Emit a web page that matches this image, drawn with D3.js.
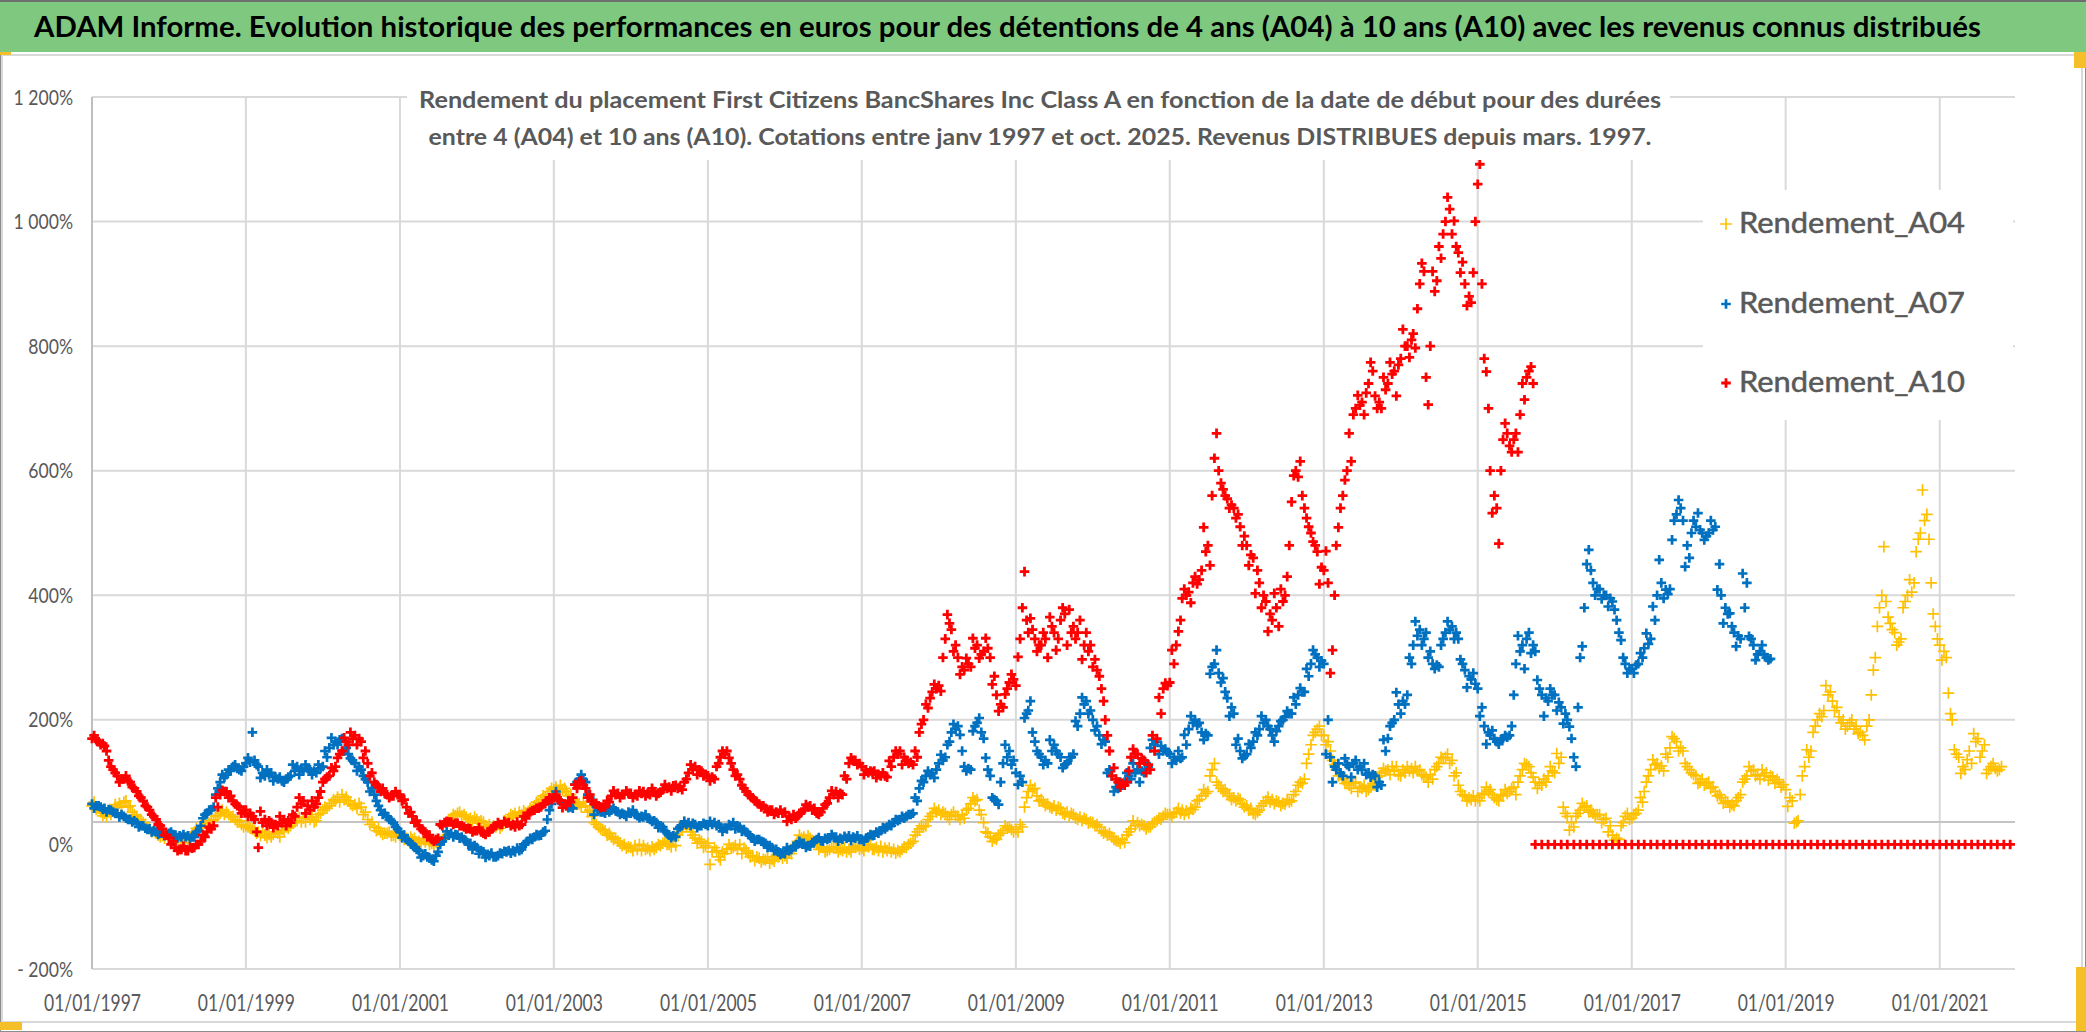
<!DOCTYPE html>
<html>
<head>
<meta charset="utf-8">
<script src="https://cdnjs.cloudflare.com/ajax/libs/d3/7.8.5/d3.min.js"></script>
<style>
    body { margin: 0; background: #ffffff; }
    text { font-family: Lato, "Open Sans", sans-serif; }
</style>
</head>
<body>
<div id="chart"></div>
<script>
// Readings (in %) on the 1st of each month, first point = January 1997
var rendementA04 = [
    62, 58, 50, 48, 60, 68, 62, 45, 35, 25, 18, 14,
    14, 10, 6, 8, 20, 30, 30, 40, 50, 52, 45, 38,
    30, 25, 20, 15, 12, 18, 22, 30, 38, 42, 40, 38,
    55, 62, 70, 80, 70, 64, 60, 40, 28, 20, 18, 15,
    15, 10, 8, 5, 4, 2, 1, 12, 42, 50, 48, 42,
    40, 36, 32, 28, 30, 42, 50, 48, 52, 62, 72, 80,
    88, 95, 85, 72, 65, 62, 45, 28, 22, 12, 5, 0,
    -5, -8, -2, -10, -5, 2, 0, -2, 25, 32, 10, 5,
    2, -5, -25, -8, -5, 0, -10, -18, -22, -25, -24, -20,
    -18, -15, 5, 12, 10, 0, -5, -8, -6, -10, -8, -5,
    -6, -4, -8, -3, -10, -8, -12, -5, 5, 25, 30, 50,
    55, 50, 48, 45, 42, 65, 72, 35, 12, 8, 22, 28,
    24, 28, 85, 90, 72, 65, 62, 58, 52, 48, 44, 40,
    35, 28, 20, 12, 5, 3, 25, 35, 30, 28, 38, 45,
    48, 52, 55, 50, 60, 78, 85, 130, 90, 82, 75, 72,
    62, 50, 55, 70, 72, 68, 65, 70, 95, 105, 160, 185,
    175, 150, 120, 105, 95, 100, 90, 88, 95, 115, 120, 118,
    110, 125, 115, 120, 108, 105, 130, 140, 135, 95, 78, 72,
    75, 82, 88, 72, 78, 85, 80, 120, 125, 100, 95, 110,
    115, 140, 45, 28, 55, 62, 50, 48, 42, 15, 8, 45,
    42, 55, 85, 120, 130, 118, 155, 165, 150, 120, 110, 105,
    100, 85, 75, 68, 62, 80, 110, 120, 105, 115, 108, 100,
    88, 70, 38, 125, 150, 200, 215, 245, 220, 200, 195, 190,
    175, 200, 300, 400, 365, 340, 330, 400, 420, 500, 530, 370,
    320, 300, 200, 140, 120, 130, 170, 160, 125, 118
];
// Readings on the 11th of each month
var rendementA04Mid = [
    68, 52, 45, 55, 66, 70, 52, 38, 30, 20, 15, 10,
    8, 5, 3, 12, 26, 28, 34, 45, 55, 48, 40, 32,
    28, 22, 14, 11, 16, 12, 28, 34, 43, 36, 44, 48,
    60, 66, 76, 72, 65, 58, 48, 32, 22, 16, 20, 12,
    12, 6, 10, 2, 8, -2, 5, 30, 48, 52, 44, 38,
    34, 30, 26, 32, 38, 48, 44, 54, 58, 68, 78, 85,
    92, 88, 78, 68, 60, 52, 35, 25, 15, 8, 2, -6,
    -10, 0, -8, -4, 0, 5, -4, 15, 36, 20, 2, -5,
    -32, -10, -12, 0, -2, -15, -14, -26, -28, -20, -27, -16,
    -22, -5, 15, 8, 5, -8, -12, -4, -12, -6, -12, -2,
    -10, 0, -5, -12, -6, -14, -8, 0, 15, 30, 40, 58,
    48, 45, 52, 40, 55, 75, 55, 20, 5, 15, 30, 24,
    20, 60, 95, 78, 68, 60, 55, 50, 45, 42, 38, 34,
    30, 22, 15, 8, 2, 15, 38, 30, 25, 33, 42, 50,
    44, 58, 48, 58, 70, 88, 110, 100, 85, 78, 70, 65,
    55, 48, 62, 76, 65, 62, 72, 80, 100, 130, 175, 190,
    160, 135, 110, 98, 90, 85, 95, 92, 108, 122, 112, 125,
    120, 118, 125, 112, 100, 120, 140, 145, 110, 85, 70, 78,
    70, 92, 80, 70, 88, 90, 100, 130, 115, 90, 105, 125,
    146, 60, 23, 45, 66, 52, 45, 35, 20, 7, 30, 50,
    48, 75, 100, 136, 122, 145, 173, 150, 130, 115, 98, 95,
    90, 78, 66, 60, 70, 100, 125, 110, 120, 103, 98, 92,
    61, 34, 80, 152, 180, 210, 255, 230, 205, 185, 200, 178,
    168, 240, 350, 478, 355, 320, 380, 425, 470, 569, 490, 350,
    296, 243, 152, 114, 136, 178, 140, 114, 130, 120
];
// Readings on the 21st of each month
var rendementA04Late = [
    56, 46, 52, 64, 62, 60, 48, 40, 26, 22, 12, 16,
    10, 12, 8, 16, 22, 34, 38, 46, 48, 44, 36, 28,
    26, 18, 20, 16, 20, 24, 26, 36, 36, 45, 36, 50,
    58, 72, 68, 76, 62, 66, 52, 36, 26, 18, 14, 18,
    8, 12, 4, 8, 0, 4, 8, 38, 46, 46, 40, 44,
    38, 28, 30, 26, 36, 46, 52, 50, 56, 66, 76, 90,
    84, 90, 80, 64, 68, 55, 32, 24, 18, 10, -2, -4,
    -2, -10, -6, -8, -2, 0, 6, 20, 30, 15, 8, -2,
    -12, -20, -15, -6, -8, -6, -20, -20, -24, -30, -18, -22,
    -14, 0, 10, 14, 4, -4, -10, -6, -8, -12, -4, -8,
    -2, -8, -10, -6, -12, -10, -4, 2, 20, 28, 45, 52,
    52, 40, 46, 48, 58, 70, 48, 18, 10, 18, 26, 20,
    32, 75, 88, 70, 62, 58, 60, 48, 50, 40, 42, 36,
    32, 18, 18, 6, 8, 20, 30, 32, 28, 36, 40, 48,
    50, 50, 54, 56, 72, 82, 120, 95, 88, 72, 74, 60,
    58, 52, 66, 68, 70, 66, 68, 85, 98, 145, 180, 175,
    165, 128, 112, 100, 98, 92, 85, 98, 110, 118, 125, 112,
    115, 122, 118, 110, 112, 125, 138, 130, 115, 80, 75, 70,
    80, 85, 75, 80, 82, 92, 110, 128, 108, 98, 100, 118,
    130, 50, 35, 50, 60, 55, 48, 40, 30, 10, 35, 40,
    50, 68, 110, 128, 126, 140, 170, 155, 125, 112, 100, 98,
    92, 80, 70, 64, 75, 105, 118, 112, 110, 110, 104, 96,
    75, 36, 110, 140, 190, 205, 240, 215, 195, 190, 185, 180,
    190, 280, 380, 390, 345, 325, 390, 405, 490, 520, 420, 330,
    310, 210, 145, 125, 150, 165, 150, 120, 122, 125
];

var rendementA07 = [
    65, 62, 58, 55, 50, 45, 40, 35, 30, 25, 20, 18,
    18, 15, 12, 14, 12, 30, 50, 60, 100, 112, 125, 120,
    130, 180, 125, 110, 115, 105, 100, 110, 125, 118, 120, 115,
    125, 155, 165, 170, 145, 130, 120, 100, 80, 55, 45, 35,
    20, 8, 0, -10, -15, -25, -12, 10, 18, 15, 8, 2,
    -5, -12, -18, -20, -15, -10, -12, -8, 5, 12, 15, 40,
    78, 70, 62, 58, 105, 100, 70, 55, 50, 55, 52, 48,
    50, 46, 44, 40, 35, 28, 15, 12, 30, 35, 32, 30,
    30, 35, 28, 25, 35, 28, 20, 10, 8, 2, -5, -12,
    -15, -8, 0, 2, -3, 8, 5, 10, 12, 8, 14, 10,
    8, 12, 15, 22, 28, 35, 40, 45, 50, 90, 110, 115,
    130, 140, 180, 190, 125, 120, 195, 170, 110, 70, 130, 150,
    115, 100, 215, 165, 140, 130, 160, 140, 130, 145, 210, 230,
    200, 175, 165, 110, 90, 100, 105, 120, 115, 155, 165, 150,
    145, 135, 140, 185, 200, 180, 175, 290, 260, 235, 210, 150,
    145, 165, 185, 200, 175, 190, 205, 210, 240, 245, 290, 300,
    290, 140, 120, 110, 125, 135, 120, 115, 110, 95, 170, 200,
    210, 240, 320, 345, 340, 290, 285, 340, 350, 330, 280, 265,
    250, 190, 175, 165, 170, 175, 290, 320, 340, 310, 240, 230,
    240, 220, 200, 140, 300, 450, 420, 410, 400, 390, 340, 290,
    282, 290, 315, 330, 400, 395, 410, 530, 520, 460, 510, 500,
    500, 510, 400, 370, 340, 330, 420, 320, 310, 300
];
var rendementA07Mid = [
    58, 60, 52, 52, 44, 42, 36, 28, 26, 20, 16, 14,
    20, 11, 16, 10, 20, 42, 55, 80, 112, 120, 128, 118,
    139, 135, 107, 120, 102, 108, 105, 128, 112, 128, 112, 128,
    150, 171, 160, 150, 138, 118, 110, 85, 70, 48, 40, 28,
    11, 5, -5, -21, -20, -27, 0, 21, 12, 10, 5, -8,
    -15, -21, -14, -18, -11, -14, -6, 0, 10, 16, 20, 55,
    85, 65, 59, 96, 112, 80, 48, 52, 55, 58, 48, 45,
    55, 43, 48, 37, 27, 21, 11, 25, 37, 30, 27, 34,
    37, 30, 21, 32, 25, 21, 16, 5, 5, -5, -10, -16,
    -5, -3, 5, -5, 3, 11, 10, 16, 5, 13, 6, 14,
    5, 16, 20, 27, 32, 40, 45, 48, 75, 102, 118, 107,
    144, 160, 193, 176, 118, 182, 203, 139, 75, 64, 160, 128,
    96, 203, 230, 150, 128, 168, 150, 123, 140, 198, 236, 210,
    183, 161, 115, 85, 100, 115, 130, 100, 130, 168, 145, 153,
    130, 150, 176, 206, 191, 168, 274, 312, 267, 206, 160, 138,
    161, 180, 206, 190, 165, 198, 214, 236, 251, 282, 312, 285,
    145, 100, 130, 138, 108, 120, 130, 108, 92, 168, 190, 244,
    230, 300, 358, 320, 300, 282, 320, 358, 330, 297, 252, 275,
    206, 161, 183, 161, 175, 190, 335, 282, 307, 264, 206, 250,
    215, 194, 189, 125, 318, 473, 400, 394, 382, 377, 328, 275,
    275, 307, 339, 382, 457, 409, 489, 553, 446, 500, 532, 489,
    520, 409, 355, 371, 318, 435, 334, 296, 320, 296
];
var rendementA07Late = [
    62, 56, 56, 50, 48, 40, 38, 30, 24, 22, 18, 16,
    16, 14, 12, 12, 22, 48, 56, 90, 108, 118, 122, 125,
    132, 128, 115, 112, 108, 102, 108, 118, 122, 122, 118, 122,
    140, 160, 168, 155, 135, 125, 105, 90, 62, 50, 38, 25,
    15, 2, -8, -18, -22, -18, 5, 15, 16, 12, 0, -2,
    -10, -16, -20, -14, -12, -10, -10, 2, 8, 14, 22, 65,
    72, 65, 60, 100, 104, 75, 60, 52, 52, 54, 50, 52,
    48, 45, 42, 38, 30, 18, 14, 28, 32, 34, 30, 32,
    32, 32, 26, 30, 30, 24, 14, 8, 4, -2, -8, -14,
    -10, -4, 2, -2, 5, 6, 8, 12, 10, 10, 12, 8,
    10, 14, 18, 25, 30, 38, 42, 48, 70, 100, 112, 120,
    135, 165, 185, 150, 122, 190, 180, 120, 72, 100, 140, 135,
    110, 210, 180, 145, 135, 150, 145, 128, 140, 190, 225, 215,
    190, 168, 120, 92, 95, 110, 115, 118, 125, 160, 158, 148,
    140, 138, 160, 195, 195, 178, 285, 275, 245, 220, 170, 142,
    155, 175, 195, 185, 182, 200, 210, 225, 245, 270, 305, 295,
    200, 125, 115, 128, 130, 125, 112, 112, 100, 150, 195, 225,
    225, 290, 335, 330, 310, 288, 330, 345, 340, 290, 270, 258,
    220, 180, 170, 168, 172, 240, 310, 330, 320, 250, 235, 240,
    228, 210, 170, 220, 380, 440, 410, 400, 395, 360, 300, 282,
    288, 300, 322, 360, 420, 402, 520, 540, 480, 520, 505, 495,
    505, 450, 380, 350, 335, 380, 330, 305, 305, 298
];

var rendementA10 = [
    170, 165, 158, 125, 110, 105, 100, 85, 70, 55, 40, 25,
    10, -5, -8, -10, -5, 5, 20, 30, 80, 85, 70, 60,
    55, 45, -5, 40, 35, 30, 40, 35, 60, 70, 55, 65,
    100, 110, 125, 150, 160, 175, 165, 130, 100, 85, 80, 78,
    80, 60, 45, 30, 20, 8, 10, 35, 36, 34, 28, 25,
    22, 18, 20, 30, 32, 35, 28, 32, 50, 55, 60, 70,
    75, 70, 62, 75, 100, 90, 70, 62, 60, 78, 82, 80,
    82, 78, 85, 80, 78, 88, 92, 95, 88, 115, 125, 118,
    110, 105, 140, 150, 120, 105, 85, 75, 65, 58, 55, 50,
    52, 40, 45, 55, 62, 50, 58, 75, 85, 80, 130, 135,
    125, 115, 118, 110, 108, 140, 150, 135, 128, 180, 225, 245,
    255, 330, 345, 300, 280, 285, 320, 310, 300, 240, 220, 260,
    255, 380, 340, 330, 320, 300, 340, 360, 320, 350, 360, 340,
    285, 270, 200, 110, 100, 95, 140, 145, 135, 120, 170, 250,
    260, 320, 395, 405, 430, 440, 480, 620, 580, 555, 540, 510,
    480, 460, 420, 390, 360, 350, 400, 550, 590, 540, 500, 470,
    440, 275, 480, 560, 660, 700, 710, 740, 720, 700, 740, 760,
    780, 800, 820, 900, 750, 920, 960, 1000, 980, 950, 900, 870,
    1060, 780, 600, 540, 650, 640, 660, 740, 760,
    // no full 10-year window left: plotted at 0
    0, 0, 0,
    0, 0, 0, 0, 0, 0, 0, 0, 0, 0, 0, 0,
    0, 0, 0, 0, 0, 0, 0, 0, 0, 0, 0, 0,
    0, 0, 0, 0, 0, 0, 0, 0, 0, 0, 0, 0,
    0, 0, 0, 0, 0, 0, 0, 0, 0, 0, 0, 0,
    0, 0, 0, 0, 0, 0, 0, 0, 0, 0, 0, 0,
    0, 0, 0, 0, 0, 0, 0, 0, 0, 0, 0, 0
];
var rendementA10Mid = [
    175, 160, 150, 120, 100, 110, 92, 78, 62, 48, 32, 15,
    0, -10, -3, -5, 0, 15, 28, 75, 87, 75, 65, 50,
    45, 40, 53, 30, 27, 45, 30, 48, 75, 50, 70, 75,
    105, 123, 139, 171, 180, 160, 139, 110, 96, 90, 75, 85,
    70, 50, 35, 25, 12, 5, 32, 37, 32, 30, 25, 20,
    27, 16, 25, 35, 37, 30, 36, 45, 52, 58, 65, 75,
    80, 59, 70, 96, 102, 75, 65, 59, 70, 86, 75, 86,
    75, 86, 78, 90, 82, 96, 86, 90, 100, 128, 112, 110,
    102, 125, 150, 139, 110, 95, 80, 70, 60, 52, 48, 55,
    37, 48, 50, 64, 55, 48, 64, 86, 75, 110, 139, 128,
    112, 118, 107, 115, 134, 150, 128, 130, 150, 193, 219, 257,
    246, 369, 310, 273, 299, 331, 299, 331, 257, 214, 241, 273,
    301, 438, 363, 310, 340, 365, 312, 380, 377, 330, 297, 310,
    297, 250, 175, 123, 92, 100, 153, 130, 115, 175, 236, 259,
    312, 342, 410, 388, 418, 509, 448, 660, 570, 540, 524, 480,
    448, 403, 380, 342, 403, 410, 430, 592, 615, 524, 486, 418,
    471, 312, 509, 585, 615, 721, 690, 774, 700, 750, 774, 720,
    827, 782, 797, 933, 706, 888, 941, 1039, 1001, 918, 865, 918,
    1092, 759, 532, 483, 676, 630, 630, 714, 767
];
var rendementA10Late = [
    168, 162, 135, 115, 105, 102, 90, 75, 60, 45, 30, 15,
    5, -8, -10, -6, 0, 12, 25, 60, 85, 78, 62, 55,
    50, 20, 35, 38, 32, 35, 38, 45, 65, 62, 60, 85,
    108, 118, 145, 165, 170, 170, 150, 115, 92, 82, 78, 80,
    72, 52, 38, 22, 15, 8, 30, 36, 34, 30, 26, 22,
    20, 20, 28, 32, 34, 32, 30, 42, 54, 58, 66, 72,
    72, 64, 68, 90, 95, 80, 66, 60, 68, 80, 80, 82,
    80, 82, 82, 85, 84, 90, 94, 92, 105, 120, 120, 112,
    108, 130, 145, 130, 112, 90, 78, 68, 62, 55, 52, 50,
    45, 42, 52, 60, 58, 52, 66, 80, 82, 105, 135, 130,
    120, 116, 112, 110, 125, 145, 140, 132, 140, 200, 235, 250,
    300, 355, 320, 285, 290, 315, 305, 315, 270, 225, 250, 265,
    330, 360, 345, 320, 330, 350, 330, 370, 340, 340, 320, 320,
    280, 230, 150, 105, 98, 118, 145, 138, 128, 150, 210, 255,
    290, 360, 400, 420, 425, 470, 560, 600, 560, 545, 530, 495,
    465, 440, 400, 370, 380, 390, 480, 600, 560, 510, 480, 445,
    420, 400, 540, 600, 690, 705, 725, 760, 710, 730, 755, 770,
    800, 810, 860, 920, 800, 905, 980, 1020, 960, 935, 880, 1000,
    900, 700, 560, 600, 660, 650, 690, 750, 740
];

var readingDays = [0, 10, 20];   // offsets from the 1st of each month

var seriesNames = ["Rendement_A04", "Rendement_A07", "Rendement_A10"];
var xTickYears = [1997, 1999, 2001, 2003, 2005, 2007, 2009, 2011, 2013, 2015, 2017, 2019, 2021];
var yTickValues = [-200, 0, 200, 400, 600, 800, 1000, 1200];
var axisCrossValue = 36;

var titleText = "ADAM Informe. Evolution historique des performances en euros pour des détentions de 4 ans (A04) à 10 ans (A10) avec les revenus connus distribués";
var subtitleLines = [
    "Rendement du placement First Citizens BancShares Inc Class A en fonction de la date de début pour des durées",
    "entre 4 (A04) et 10 ans (A10). Cotations entre janv 1997 et oct. 2025. Revenus DISTRIBUES depuis mars. 1997."
];

var svgWidth = 2086;
var svgHeight = 1032;

var margin = {
    top: 97,
    right: 71,
    bottom: 63,
    left: 92
};

var width = svgWidth - margin.left - margin.right;
var height = svgHeight - margin.top - margin.bottom;

var textGray = "#595959";
var gridGray = "#d9d9d9";

var svg = d3.select("#chart")
    .append("svg")
    .attr("width", svgWidth)
    .attr("height", svgHeight);

// squeeze text horizontally (narrow Calibri look)
function squeeze(selection, k) {
    selection.each(function() {
        var w = this.getComputedTextLength();
        d3.select(this)
            .attr("textLength", w * k)
            .attr("lengthAdjust", "spacingAndGlyphs");
    });
}

// frame + title bar
svg.append("rect")
    .attr("x", 0.5).attr("y", 0.5)
    .attr("width", svgWidth - 1).attr("height", svgHeight - 1)
    .attr("fill", "#ffffff")
    .attr("stroke", "#8c8c8c");

svg.append("rect")
    .attr("x", 2).attr("y", 55)
    .attr("width", svgWidth - 6).attr("height", 967)
    .attr("fill", "#ffffff")
    .attr("stroke", "#d9d9d9")
    .attr("stroke-width", 2);

svg.append("rect")
    .attr("x", 0).attr("y", 0)
    .attr("width", svgWidth).attr("height", 52)
    .attr("fill", "#7ec97f");

svg.append("line")
    .attr("x1", 0).attr("x2", svgWidth)
    .attr("y1", 1).attr("y2", 1)
    .attr("stroke", "#6f6f6f")
    .attr("stroke-width", 2);

// selection handles left by the spreadsheet
var handles = [[0, 52, 11, 3], [2074, 52, 12, 16], [0, 1022, 22, 8], [2076, 967, 10, 64]];
svg.selectAll(".handle")
    .data(handles)
    .enter()
    .append("rect")
    .attr("x", d => d[0]).attr("y", d => d[1])
    .attr("width", d => d[2]).attr("height", d => d[3])
    .attr("fill", "#f5bf2a");

var chartGroup = svg.append("g")
    .attr("transform", `translate(${margin.left}, ${margin.top})`);

// scales
var xScale = d3.scaleTime()
    .domain([new Date(1997, 0, 1), new Date(2021, 11, 24)])
    .range([0, width]);

var yScale = d3.scaleLinear()
    .domain([-200, 1200])
    .range([height, 0]);

var xTickDates = xTickYears.map(yr => new Date(yr, 0, 1));

// gridlines
chartGroup.selectAll(".hgrid")
    .data(yTickValues.filter(v => v !== 0))
    .enter()
    .append("line")
    .attr("x1", 0).attr("x2", width)
    .attr("y1", d => yScale(d)).attr("y2", d => yScale(d))
    .attr("stroke", gridGray)
    .attr("stroke-width", 2);

chartGroup.selectAll(".vgrid")
    .data(xTickDates.slice(1))
    .enter()
    .append("line")
    .attr("x1", d => xScale(d)).attr("x2", d => xScale(d))
    .attr("y1", 0).attr("y2", height)
    .attr("stroke", gridGray)
    .attr("stroke-width", 2);

// value axis line and horizontal axis line (crossing above 0)
chartGroup.append("line")
    .attr("x1", 0).attr("x2", 0)
    .attr("y1", 0).attr("y2", height)
    .attr("stroke", "#bfbfbf")
    .attr("stroke-width", 2);

chartGroup.append("line")
    .attr("x1", 0).attr("x2", width)
    .attr("y1", yScale(axisCrossValue)).attr("y2", yScale(axisCrossValue))
    .attr("stroke", "#c4c4c4")
    .attr("stroke-width", 2);

// axes labels
function fmtPct(v) {
    var s = d3.format(",")(Math.abs(v)).replace(/,/g, " ");
    return (v < 0 ? "- " : "") + s + "%";
}

var leftAxis = d3.axisLeft(yScale)
    .tickValues(yTickValues)
    .tickSize(0)
    .tickPadding(19)
    .tickFormat(fmtPct);

var yAxis = chartGroup.append("g").call(leftAxis);
yAxis.select(".domain").remove();
yAxis.selectAll("text")
    .attr("fill", textGray)
    .style("font-size", "22px")
    .call(squeeze, 0.8);

var bottomAxis = d3.axisBottom(xScale)
    .tickValues(xTickDates)
    .tickSize(0)
    .tickFormat(d3.timeFormat("%d/%m/%Y"));

var xAxis = chartGroup.append("g")
    .attr("transform", `translate(0, ${height})`)
    .call(bottomAxis);
xAxis.select(".domain").remove();
xAxis.selectAll("text")
    .attr("y", 42)
    .attr("dy", 0)
    .attr("fill", textGray)
    .style("font-size", "23px")
    .attr("textLength", 97)
    .attr("lengthAdjust", "spacingAndGlyphs");

// white boxes behind subtitle and legend
svg.append("rect")
    .attr("x", 407).attr("y", 80)
    .attr("width", 1263).attr("height", 80)
    .attr("fill", "#ffffff");

svg.append("rect")
    .attr("x", 1703).attr("y", 190)
    .attr("width", 310).attr("height", 230)
    .attr("fill", "#ffffff");

// series
var series = [
    { name: seriesNames[0], readings: [rendementA04, rendementA04Mid, rendementA04Late], color: "#ffc000", half: 5.8, stroke: 1.7 },
    { name: seriesNames[1], readings: [rendementA07, rendementA07Mid, rendementA07Late], color: "#0070c0", half: 4.8, stroke: 2.7 },
    { name: seriesNames[2], readings: [rendementA10, rendementA10Mid, rendementA10Late], color: "#ff0000", half: 4.8, stroke: 2.8 }
];

function plusPath(h) {
    return `M${-h},0H${h}M0,${-h}V${h}`;
}

var start = new Date(1997, 0, 1);

series.forEach(function(s) {
    var pts = [];
    s.readings.forEach(function(arr, k) {
        arr.forEach(function(v, i) {
            pts.push({ date: d3.timeDay.offset(d3.timeMonth.offset(start, i), readingDays[k]), value: v });
        });
    });
    pts.sort((a, b) => a.date - b.date);

    chartGroup.append("g")
        .selectAll("path")
        .data(pts)
        .enter()
        .append("path")
        .attr("transform", d => `translate(${xScale(d.date)}, ${yScale(d.value)})`)
        .attr("d", plusPath(s.half))
        .attr("fill", "none")
        .attr("stroke", s.color)
        .attr("stroke-width", s.stroke);
});

// legend
var legendBase = [233, 313, 392];
var legend = svg.append("g");
series.forEach(function(s, i) {
    legend.append("path")
        .attr("transform", `translate(1726, ${legendBase[i] - 9})`)
        .attr("d", plusPath(s.half))
        .attr("fill", "none")
        .attr("stroke", s.color)
        .attr("stroke-width", s.stroke);
    legend.append("text")
        .attr("x", 1739)
        .attr("y", legendBase[i])
        .attr("fill", textGray)
        .attr("stroke", textGray)
        .attr("stroke-width", 0.5)
        .style("font-size", "28px")
        .attr("textLength", 226)
        .attr("lengthAdjust", "spacingAndGlyphs")
        .text(s.name);
});

// titles
svg.append("text")
    .attr("x", 34)
    .attr("y", 37)
    .attr("fill", "#000000")
    .style("font-size", "28px")
    .style("font-weight", "bold")
    .attr("textLength", 1947)
    .attr("lengthAdjust", "spacingAndGlyphs")
    .text(titleText);

var subWidths = [1242, 1223];
var subBase = [108, 145];
subtitleLines.forEach(function(line, i) {
    svg.append("text")
        .attr("x", 1040)
        .attr("y", subBase[i])
        .attr("text-anchor", "middle")
        .attr("fill", textGray)
        .style("font-size", "22px")
        .style("font-weight", "bold")
        .attr("textLength", subWidths[i])
        .attr("lengthAdjust", "spacingAndGlyphs")
        .text(line);
});
</script>
</body>
</html>
